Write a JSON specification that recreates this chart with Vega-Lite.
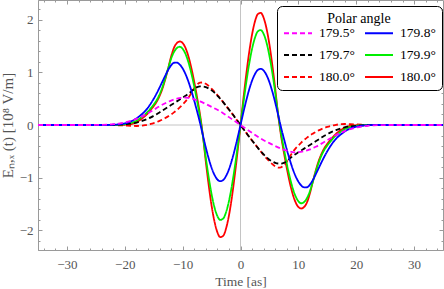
{
"$schema":"https://vega.github.io/schema/vega-lite/v6.json",
"width":405,"height":250,"autosize":"none",
"padding":{"left":38,"top":0,"right":1,"bottom":39},
"background":"white",
"config":{"view":{"stroke":"#9a9a9a","strokeWidth":1},"font":"Liberation Serif",
"axis":{"labelFont":"Liberation Serif","titleFont":"Liberation Serif","labelColor":"#555555","titleColor":"#555555","labelFontSize":13,"titleFontSize":13.5,"titleFontWeight":"normal","domainColor":"#9a9a9a","tickColor":"#9a9a9a","grid":false}},
"layer":[
{"data":{"values":[{"t":0}]},"mark":{"type":"rule","color":"#c4c4c4","strokeWidth":1},
"encoding":{"x":{"field":"t","type":"quantitative","scale":{"domain":[-35,35],"nice":false,"zero":false},
"axis":{"orient":"top","labels":false,"title":null,"domain":false,"values":[-34,-32,-30,-28,-26,-24,-22,-20,-18,-16,-14,-12,-10,-8,-6,-4,-2,0,2,4,6,8,10,12,14,16,18,20,22,24,26,28,30,32,34],"tickSize":{"condition":{"test":"datum.value % 10 === 0","value":-4},"value":-2}}}}},
{"data":{"values":[{"v":0}]},"mark":{"type":"rule","color":"#c4c4c4","strokeWidth":1},
"encoding":{"y":{"field":"v","type":"quantitative","scale":{"domain":[-2.38,2.38],"nice":false,"zero":false},
"axis":{"orient":"right","labels":false,"title":null,"domain":false,"values":[-2.2,-2,-1.8,-1.6,-1.4,-1.2,-1,-0.8,-0.6,-0.4,-0.2,0,0.2,0.4,0.6,0.8,1,1.2,1.4,1.6,1.8,2,2.2],"tickSize":{"condition":{"test":"datum.value % 1 === 0","value":-4},"value":-2}}}}},
{"data":{"values":[{"v":0}]},"mark":{"type":"point","opacity":0},
"encoding":{"y":{"field":"v","type":"quantitative","scale":{"domain":[-2.38,2.38],"nice":false,"zero":false},
"axis":{"orient":"left","labels":false,"title":null,"domain":false,"values":[-2.2,-1.8,-1.6,-1.4,-1.2,-0.8,-0.6,-0.4,-0.2,0.2,0.4,0.6,0.8,1.2,1.4,1.6,1.8,2.2],"tickSize":-2}}}},
{"data":{"values":[
{"s":"f","t":-35,"v":0},{"s":"f","t":-30,"v":0},{"s":"f","t":-21,"v":0},{"s":"f","t":-20,"v":0.005},{"s":"f","t":-19,"v":0.015},{"s":"f","t":-18.5,"v":0.03},{"s":"f","t":-18,"v":0.05},{"s":"f","t":-17.5,"v":0.085},{"s":"f","t":-17,"v":0.125},{"s":"f","t":-16.5,"v":0.17},{"s":"f","t":-16,"v":0.225},{"s":"f","t":-15.5,"v":0.29},{"s":"f","t":-15,"v":0.36},{"s":"f","t":-14.5,"v":0.44},{"s":"f","t":-14,"v":0.55},{"s":"f","t":-13.5,"v":0.69},{"s":"f","t":-13,"v":0.87},{"s":"f","t":-12.5,"v":1.08},{"s":"f","t":-12,"v":1.3},{"s":"f","t":-11.5,"v":1.47},{"s":"f","t":-11,"v":1.56},{"s":"f","t":-10.5,"v":1.59},{"s":"f","t":-10,"v":1.561},{"s":"f","t":-9.5,"v":1.466},{"s":"f","t":-9,"v":1.306},{"s":"f","t":-8.5,"v":1.088},{"s":"f","t":-8,"v":0.823},{"s":"f","t":-7.5,"v":0.523},{"s":"f","t":-7,"v":0.199},{"s":"f","t":-6.5,"v":-0.2},{"s":"f","t":-6,"v":-0.694},{"s":"f","t":-5.5,"v":-1.141},{"s":"f","t":-5,"v":-1.533},{"s":"f","t":-4.5,"v":-1.836},{"s":"f","t":-4,"v":-2.041},{"s":"f","t":-3.5,"v":-2.135},{"s":"f","t":-3,"v":-2.112},{"s":"f","t":-2.5,"v":-1.972},{"s":"f","t":-2,"v":-1.725},{"s":"f","t":-1.5,"v":-1.384},{"s":"f","t":-1,"v":-0.967},{"s":"f","t":-0.5,"v":-0.497},{"s":"f","t":0,"v":0},{"s":"f","t":0.5,"v":0.497},{"s":"f","t":1,"v":0.967},{"s":"f","t":1.5,"v":1.384},{"s":"f","t":2,"v":1.725},{"s":"f","t":2.5,"v":1.972},{"s":"f","t":3,"v":2.112},{"s":"f","t":3.5,"v":2.135},{"s":"f","t":4,"v":2.041},{"s":"f","t":4.5,"v":1.836},{"s":"f","t":5,"v":1.533},{"s":"f","t":5.5,"v":1.141},{"s":"f","t":6,"v":0.694},{"s":"f","t":6.5,"v":0.2},{"s":"f","t":7,"v":-0.199},{"s":"f","t":7.5,"v":-0.523},{"s":"f","t":8,"v":-0.823},{"s":"f","t":8.5,"v":-1.088},{"s":"f","t":9,"v":-1.306},{"s":"f","t":9.5,"v":-1.466},{"s":"f","t":10,"v":-1.561},{"s":"f","t":10.5,"v":-1.59},{"s":"f","t":11,"v":-1.56},{"s":"f","t":11.5,"v":-1.47},{"s":"f","t":12,"v":-1.3},{"s":"f","t":12.5,"v":-1.08},{"s":"f","t":13,"v":-0.87},{"s":"f","t":13.5,"v":-0.69},{"s":"f","t":14,"v":-0.55},{"s":"f","t":14.5,"v":-0.44},{"s":"f","t":15,"v":-0.36},{"s":"f","t":15.5,"v":-0.29},{"s":"f","t":16,"v":-0.225},{"s":"f","t":16.5,"v":-0.17},{"s":"f","t":17,"v":-0.125},{"s":"f","t":17.5,"v":-0.085},{"s":"f","t":18,"v":-0.05},{"s":"f","t":18.5,"v":-0.03},{"s":"f","t":19,"v":-0.015},{"s":"f","t":20,"v":-0.005},{"s":"f","t":21,"v":0},{"s":"f","t":30,"v":0},{"s":"f","t":35,"v":0},
{"s":"e","t":-35,"v":0},{"s":"e","t":-30,"v":0},{"s":"e","t":-24,"v":0},{"s":"e","t":-22,"v":-0.002},{"s":"e","t":-21,"v":-0.005},{"s":"e","t":-20,"v":-0.01},{"s":"e","t":-19,"v":-0.016},{"s":"e","t":-18,"v":-0.019},{"s":"e","t":-17.5,"v":-0.017},{"s":"e","t":-17,"v":-0.012},{"s":"e","t":-16.5,"v":-0.004},{"s":"e","t":-16,"v":0.008},{"s":"e","t":-15.5,"v":0.021},{"s":"e","t":-15,"v":0.037},{"s":"e","t":-14.5,"v":0.056},{"s":"e","t":-14,"v":0.078},{"s":"e","t":-13.5,"v":0.103},{"s":"e","t":-13,"v":0.132},{"s":"e","t":-12.5,"v":0.165},{"s":"e","t":-12,"v":0.2},{"s":"e","t":-11.5,"v":0.24},{"s":"e","t":-11,"v":0.285},{"s":"e","t":-10.5,"v":0.335},{"s":"e","t":-10,"v":0.39},{"s":"e","t":-9.5,"v":0.45},{"s":"e","t":-9,"v":0.52},{"s":"e","t":-8.5,"v":0.605},{"s":"e","t":-8,"v":0.7},{"s":"e","t":-7.5,"v":0.77},{"s":"e","t":-7,"v":0.805},{"s":"e","t":-6.5,"v":0.81},{"s":"e","t":-6,"v":0.785},{"s":"e","t":-5.5,"v":0.745},{"s":"e","t":-5,"v":0.69},{"s":"e","t":-4.5,"v":0.635},{"s":"e","t":-4,"v":0.57},{"s":"e","t":-3.5,"v":0.505},{"s":"e","t":-3,"v":0.435},{"s":"e","t":-2.5,"v":0.365},{"s":"e","t":-2,"v":0.295},{"s":"e","t":-1.5,"v":0.225},{"s":"e","t":-1,"v":0.15},{"s":"e","t":-0.5,"v":0.075},{"s":"e","t":0,"v":0},{"s":"e","t":0.5,"v":-0.075},{"s":"e","t":1,"v":-0.15},{"s":"e","t":1.5,"v":-0.225},{"s":"e","t":2,"v":-0.295},{"s":"e","t":2.5,"v":-0.365},{"s":"e","t":3,"v":-0.435},{"s":"e","t":3.5,"v":-0.505},{"s":"e","t":4,"v":-0.57},{"s":"e","t":4.5,"v":-0.635},{"s":"e","t":5,"v":-0.69},{"s":"e","t":5.5,"v":-0.745},{"s":"e","t":6,"v":-0.785},{"s":"e","t":6.5,"v":-0.81},{"s":"e","t":7,"v":-0.805},{"s":"e","t":7.5,"v":-0.77},{"s":"e","t":8,"v":-0.7},{"s":"e","t":8.5,"v":-0.605},{"s":"e","t":9,"v":-0.52},{"s":"e","t":9.5,"v":-0.45},{"s":"e","t":10,"v":-0.39},{"s":"e","t":10.5,"v":-0.335},{"s":"e","t":11,"v":-0.285},{"s":"e","t":11.5,"v":-0.24},{"s":"e","t":12,"v":-0.2},{"s":"e","t":12.5,"v":-0.165},{"s":"e","t":13,"v":-0.132},{"s":"e","t":13.5,"v":-0.103},{"s":"e","t":14,"v":-0.078},{"s":"e","t":14.5,"v":-0.056},{"s":"e","t":15,"v":-0.037},{"s":"e","t":15.5,"v":-0.021},{"s":"e","t":16,"v":-0.008},{"s":"e","t":16.5,"v":0.004},{"s":"e","t":17,"v":0.012},{"s":"e","t":17.5,"v":0.017},{"s":"e","t":18,"v":0.019},{"s":"e","t":19,"v":0.016},{"s":"e","t":20,"v":0.01},{"s":"e","t":21,"v":0.005},{"s":"e","t":22,"v":0.002},{"s":"e","t":24,"v":0},{"s":"e","t":30,"v":0},{"s":"e","t":35,"v":0},
{"s":"d","t":-35,"v":0},{"s":"d","t":-30,"v":0},{"s":"d","t":-22,"v":0},{"s":"d","t":-21,"v":0.005},{"s":"d","t":-20,"v":0.015},{"s":"d","t":-19,"v":0.035},{"s":"d","t":-18.5,"v":0.055},{"s":"d","t":-18,"v":0.08},{"s":"d","t":-17.5,"v":0.115},{"s":"d","t":-17,"v":0.155},{"s":"d","t":-16.5,"v":0.2},{"s":"d","t":-16,"v":0.255},{"s":"d","t":-15.5,"v":0.32},{"s":"d","t":-15,"v":0.39},{"s":"d","t":-14.5,"v":0.47},{"s":"d","t":-14,"v":0.58},{"s":"d","t":-13.5,"v":0.72},{"s":"d","t":-13,"v":0.89},{"s":"d","t":-12.5,"v":1.08},{"s":"d","t":-12,"v":1.26},{"s":"d","t":-11.5,"v":1.39},{"s":"d","t":-11,"v":1.465},{"s":"d","t":-10.5,"v":1.49},{"s":"d","t":-10,"v":1.451},{"s":"d","t":-9.5,"v":1.352},{"s":"d","t":-9,"v":1.195},{"s":"d","t":-8.5,"v":0.986},{"s":"d","t":-8,"v":0.736},{"s":"d","t":-7.5,"v":0.455},{"s":"d","t":-7,"v":0.154},{"s":"d","t":-6.5,"v":-0.21},{"s":"d","t":-6,"v":-0.619},{"s":"d","t":-5.5,"v":-0.994},{"s":"d","t":-5,"v":-1.316},{"s":"d","t":-4.5,"v":-1.567},{"s":"d","t":-4,"v":-1.734},{"s":"d","t":-3.5,"v":-1.807},{"s":"d","t":-3,"v":-1.783},{"s":"d","t":-2.5,"v":-1.661},{"s":"d","t":-2,"v":-1.451},{"s":"d","t":-1.5,"v":-1.163},{"s":"d","t":-1,"v":-0.812},{"s":"d","t":-0.5,"v":-0.417},{"s":"d","t":0,"v":0},{"s":"d","t":0.5,"v":0.417},{"s":"d","t":1,"v":0.812},{"s":"d","t":1.5,"v":1.163},{"s":"d","t":2,"v":1.451},{"s":"d","t":2.5,"v":1.661},{"s":"d","t":3,"v":1.783},{"s":"d","t":3.5,"v":1.807},{"s":"d","t":4,"v":1.734},{"s":"d","t":4.5,"v":1.567},{"s":"d","t":5,"v":1.316},{"s":"d","t":5.5,"v":0.994},{"s":"d","t":6,"v":0.619},{"s":"d","t":6.5,"v":0.21},{"s":"d","t":7,"v":-0.154},{"s":"d","t":7.5,"v":-0.455},{"s":"d","t":8,"v":-0.736},{"s":"d","t":8.5,"v":-0.986},{"s":"d","t":9,"v":-1.195},{"s":"d","t":9.5,"v":-1.352},{"s":"d","t":10,"v":-1.451},{"s":"d","t":10.5,"v":-1.49},{"s":"d","t":11,"v":-1.465},{"s":"d","t":11.5,"v":-1.39},{"s":"d","t":12,"v":-1.26},{"s":"d","t":12.5,"v":-1.08},{"s":"d","t":13,"v":-0.89},{"s":"d","t":13.5,"v":-0.72},{"s":"d","t":14,"v":-0.58},{"s":"d","t":14.5,"v":-0.47},{"s":"d","t":15,"v":-0.39},{"s":"d","t":15.5,"v":-0.32},{"s":"d","t":16,"v":-0.255},{"s":"d","t":16.5,"v":-0.2},{"s":"d","t":17,"v":-0.155},{"s":"d","t":17.5,"v":-0.115},{"s":"d","t":18,"v":-0.08},{"s":"d","t":18.5,"v":-0.055},{"s":"d","t":19,"v":-0.035},{"s":"d","t":20,"v":-0.015},{"s":"d","t":21,"v":-0.005},{"s":"d","t":22,"v":0},{"s":"d","t":30,"v":0},{"s":"d","t":35,"v":0},
{"s":"c","t":-35,"v":0},{"s":"c","t":-30,"v":0},{"s":"c","t":-24,"v":0},{"s":"c","t":-22,"v":0.004},{"s":"c","t":-21,"v":0.008},{"s":"c","t":-20,"v":0.015},{"s":"c","t":-19,"v":0.027},{"s":"c","t":-18,"v":0.045},{"s":"c","t":-17.5,"v":0.06},{"s":"c","t":-17,"v":0.077},{"s":"c","t":-16.5,"v":0.097},{"s":"c","t":-16,"v":0.12},{"s":"c","t":-15.5,"v":0.145},{"s":"c","t":-15,"v":0.175},{"s":"c","t":-14.5,"v":0.205},{"s":"c","t":-14,"v":0.24},{"s":"c","t":-13.5,"v":0.275},{"s":"c","t":-13,"v":0.31},{"s":"c","t":-12.5,"v":0.345},{"s":"c","t":-12,"v":0.38},{"s":"c","t":-11.5,"v":0.415},{"s":"c","t":-11,"v":0.45},{"s":"c","t":-10.5,"v":0.485},{"s":"c","t":-10,"v":0.52},{"s":"c","t":-9.5,"v":0.555},{"s":"c","t":-9,"v":0.595},{"s":"c","t":-8.5,"v":0.64},{"s":"c","t":-8,"v":0.685},{"s":"c","t":-7.5,"v":0.72},{"s":"c","t":-7,"v":0.735},{"s":"c","t":-6.5,"v":0.733},{"s":"c","t":-6,"v":0.72},{"s":"c","t":-5.5,"v":0.695},{"s":"c","t":-5,"v":0.66},{"s":"c","t":-4.5,"v":0.615},{"s":"c","t":-4,"v":0.56},{"s":"c","t":-3.5,"v":0.5},{"s":"c","t":-3,"v":0.435},{"s":"c","t":-2.5,"v":0.365},{"s":"c","t":-2,"v":0.295},{"s":"c","t":-1.5,"v":0.225},{"s":"c","t":-1,"v":0.15},{"s":"c","t":-0.5,"v":0.075},{"s":"c","t":0,"v":0},{"s":"c","t":0.5,"v":-0.075},{"s":"c","t":1,"v":-0.15},{"s":"c","t":1.5,"v":-0.225},{"s":"c","t":2,"v":-0.295},{"s":"c","t":2.5,"v":-0.365},{"s":"c","t":3,"v":-0.435},{"s":"c","t":3.5,"v":-0.5},{"s":"c","t":4,"v":-0.56},{"s":"c","t":4.5,"v":-0.615},{"s":"c","t":5,"v":-0.66},{"s":"c","t":5.5,"v":-0.695},{"s":"c","t":6,"v":-0.72},{"s":"c","t":6.5,"v":-0.733},{"s":"c","t":7,"v":-0.735},{"s":"c","t":7.5,"v":-0.72},{"s":"c","t":8,"v":-0.685},{"s":"c","t":8.5,"v":-0.64},{"s":"c","t":9,"v":-0.595},{"s":"c","t":9.5,"v":-0.555},{"s":"c","t":10,"v":-0.52},{"s":"c","t":10.5,"v":-0.485},{"s":"c","t":11,"v":-0.45},{"s":"c","t":11.5,"v":-0.415},{"s":"c","t":12,"v":-0.38},{"s":"c","t":12.5,"v":-0.345},{"s":"c","t":13,"v":-0.31},{"s":"c","t":13.5,"v":-0.275},{"s":"c","t":14,"v":-0.24},{"s":"c","t":14.5,"v":-0.205},{"s":"c","t":15,"v":-0.175},{"s":"c","t":15.5,"v":-0.145},{"s":"c","t":16,"v":-0.12},{"s":"c","t":16.5,"v":-0.097},{"s":"c","t":17,"v":-0.077},{"s":"c","t":17.5,"v":-0.06},{"s":"c","t":18,"v":-0.045},{"s":"c","t":19,"v":-0.027},{"s":"c","t":20,"v":-0.015},{"s":"c","t":21,"v":-0.008},{"s":"c","t":22,"v":-0.004},{"s":"c","t":24,"v":0},{"s":"c","t":30,"v":0},{"s":"c","t":35,"v":0},
{"s":"b","t":-35,"v":0},{"s":"b","t":-30,"v":0},{"s":"b","t":-23,"v":0},{"s":"b","t":-22,"v":0.005},{"s":"b","t":-21,"v":0.013},{"s":"b","t":-20,"v":0.031},{"s":"b","t":-19.5,"v":0.046},{"s":"b","t":-19,"v":0.066},{"s":"b","t":-18.5,"v":0.092},{"s":"b","t":-18,"v":0.125},{"s":"b","t":-17.5,"v":0.165},{"s":"b","t":-17,"v":0.21},{"s":"b","t":-16.5,"v":0.265},{"s":"b","t":-16,"v":0.33},{"s":"b","t":-15.5,"v":0.41},{"s":"b","t":-15,"v":0.5},{"s":"b","t":-14.5,"v":0.6},{"s":"b","t":-14,"v":0.71},{"s":"b","t":-13.5,"v":0.825},{"s":"b","t":-13,"v":0.94},{"s":"b","t":-12.5,"v":1.05},{"s":"b","t":-12,"v":1.135},{"s":"b","t":-11.5,"v":1.185},{"s":"b","t":-11,"v":1.187},{"s":"b","t":-10.5,"v":1.151},{"s":"b","t":-10,"v":1.077},{"s":"b","t":-9.5,"v":0.968},{"s":"b","t":-9,"v":0.826},{"s":"b","t":-8.5,"v":0.657},{"s":"b","t":-8,"v":0.465},{"s":"b","t":-7.5,"v":0.259},{"s":"b","t":-7,"v":0.043},{"s":"b","t":-6.5,"v":-0.194},{"s":"b","t":-6,"v":-0.428},{"s":"b","t":-5.5,"v":-0.638},{"s":"b","t":-5,"v":-0.815},{"s":"b","t":-4.5,"v":-0.95},{"s":"b","t":-4,"v":-1.037},{"s":"b","t":-3.5,"v":-1.07},{"s":"b","t":-3,"v":-1.048},{"s":"b","t":-2.5,"v":-0.971},{"s":"b","t":-2,"v":-0.845},{"s":"b","t":-1.5,"v":-0.675},{"s":"b","t":-1,"v":-0.47},{"s":"b","t":-0.5,"v":-0.241},{"s":"b","t":0,"v":0},{"s":"b","t":0.5,"v":0.241},{"s":"b","t":1,"v":0.47},{"s":"b","t":1.5,"v":0.675},{"s":"b","t":2,"v":0.845},{"s":"b","t":2.5,"v":0.971},{"s":"b","t":3,"v":1.048},{"s":"b","t":3.5,"v":1.07},{"s":"b","t":4,"v":1.037},{"s":"b","t":4.5,"v":0.95},{"s":"b","t":5,"v":0.815},{"s":"b","t":5.5,"v":0.638},{"s":"b","t":6,"v":0.428},{"s":"b","t":6.5,"v":0.194},{"s":"b","t":7,"v":-0.043},{"s":"b","t":7.5,"v":-0.259},{"s":"b","t":8,"v":-0.465},{"s":"b","t":8.5,"v":-0.657},{"s":"b","t":9,"v":-0.826},{"s":"b","t":9.5,"v":-0.968},{"s":"b","t":10,"v":-1.077},{"s":"b","t":10.5,"v":-1.151},{"s":"b","t":11,"v":-1.187},{"s":"b","t":11.5,"v":-1.185},{"s":"b","t":12,"v":-1.135},{"s":"b","t":12.5,"v":-1.05},{"s":"b","t":13,"v":-0.94},{"s":"b","t":13.5,"v":-0.825},{"s":"b","t":14,"v":-0.71},{"s":"b","t":14.5,"v":-0.6},{"s":"b","t":15,"v":-0.5},{"s":"b","t":15.5,"v":-0.41},{"s":"b","t":16,"v":-0.33},{"s":"b","t":16.5,"v":-0.265},{"s":"b","t":17,"v":-0.21},{"s":"b","t":17.5,"v":-0.165},{"s":"b","t":18,"v":-0.125},{"s":"b","t":18.5,"v":-0.092},{"s":"b","t":19,"v":-0.066},{"s":"b","t":19.5,"v":-0.046},{"s":"b","t":20,"v":-0.031},{"s":"b","t":21,"v":-0.013},{"s":"b","t":22,"v":-0.005},{"s":"b","t":23,"v":0},{"s":"b","t":30,"v":0},{"s":"b","t":35,"v":0},
{"s":"a","t":-35,"v":0},{"s":"a","t":-30,"v":0},{"s":"a","t":-26,"v":0},{"s":"a","t":-24,"v":0.003},{"s":"a","t":-23,"v":0.007},{"s":"a","t":-22,"v":0.015},{"s":"a","t":-21,"v":0.028},{"s":"a","t":-20,"v":0.048},{"s":"a","t":-19,"v":0.077},{"s":"a","t":-18,"v":0.115},{"s":"a","t":-17,"v":0.165},{"s":"a","t":-16,"v":0.225},{"s":"a","t":-15,"v":0.29},{"s":"a","t":-14,"v":0.355},{"s":"a","t":-13,"v":0.415},{"s":"a","t":-12,"v":0.465},{"s":"a","t":-11,"v":0.5},{"s":"a","t":-10,"v":0.518},{"s":"a","t":-9.5,"v":0.52},{"s":"a","t":-9,"v":0.515},{"s":"a","t":-8,"v":0.49},{"s":"a","t":-7,"v":0.45},{"s":"a","t":-6,"v":0.4},{"s":"a","t":-5,"v":0.345},{"s":"a","t":-4,"v":0.29},{"s":"a","t":-3,"v":0.225},{"s":"a","t":-2,"v":0.15},{"s":"a","t":-1,"v":0.075},{"s":"a","t":0,"v":0},{"s":"a","t":1,"v":-0.075},{"s":"a","t":2,"v":-0.15},{"s":"a","t":3,"v":-0.225},{"s":"a","t":4,"v":-0.29},{"s":"a","t":5,"v":-0.345},{"s":"a","t":6,"v":-0.4},{"s":"a","t":7,"v":-0.45},{"s":"a","t":8,"v":-0.49},{"s":"a","t":9,"v":-0.515},{"s":"a","t":9.5,"v":-0.52},{"s":"a","t":10,"v":-0.518},{"s":"a","t":11,"v":-0.5},{"s":"a","t":12,"v":-0.465},{"s":"a","t":13,"v":-0.415},{"s":"a","t":14,"v":-0.355},{"s":"a","t":15,"v":-0.29},{"s":"a","t":16,"v":-0.225},{"s":"a","t":17,"v":-0.165},{"s":"a","t":18,"v":-0.115},{"s":"a","t":19,"v":-0.077},{"s":"a","t":20,"v":-0.048},{"s":"a","t":21,"v":-0.028},{"s":"a","t":22,"v":-0.015},{"s":"a","t":23,"v":-0.007},{"s":"a","t":24,"v":-0.003},{"s":"a","t":26,"v":0},{"s":"a","t":30,"v":0},{"s":"a","t":35,"v":0}
]},
"mark":{"type":"line","interpolate":"monotone","strokeWidth":1.8,"clip":true},
"encoding":{
"x":{"field":"t","type":"quantitative","scale":{"domain":[-35,35],"nice":false,"zero":false},
"axis":{"orient":"bottom","title":"Time  [as]","format":"d","labelOverlap":false,"values":[-34,-32,-30,-28,-26,-24,-22,-20,-18,-16,-14,-12,-10,-8,-6,-4,-2,0,2,4,6,8,10,12,14,16,18,20,22,24,26,28,30,32,34],"labelExpr":"datum.value % 10 === 0 ? datum.label : ''","tickSize":{"condition":{"test":"datum.value % 10 === 0","value":-4},"value":-2},"labelPadding":12,"titlePadding":1}},
"y":{"field":"v","type":"quantitative","scale":{"domain":[-2.38,2.38],"nice":false,"zero":false},
"axis":{"orient":"left","title":"Eₙ,ₓ (t)  [10⁸ V/m]","titleFontSize":15,"format":"d","labelOverlap":false,"values":[-2,-1,0,1,2],"tickSize":-4,"labelPadding":9,"titlePadding":4}},
"color":{"field":"s","type":"nominal","scale":{"domain":["a","b","c","d","e","f"],"range":["#ff00ff","#0000ff","#000000","#00ee00","#ff0000","#ff0000"]},
"legend":{"orient":"none","legendX":239,"legendY":6,"title":"Polar angle","columns":2,"direction":"horizontal","symbolType":"stroke","symbolSize":784,"symbolStrokeWidth":2,"labelExpr":"datum.value=='a'?'179.5°':datum.value=='b'?'179.8°':datum.value=='c'?'179.7°':datum.value=='d'?'179.9°':'180.0°'","labelFont":"Liberation Serif","labelFontSize":13.5,"labelColor":"#000000","titleFont":"Liberation Serif","titleFontSize":14,"titleFontWeight":"normal","titleColor":"#000000","titleAnchor":"middle","titlePadding":-8,"fillColor":"white","strokeColor":"#000000","cornerRadius":5,"padding":6,"rowPadding":-11,"columnPadding":6,"labelOffset":6}},
"strokeDash":{"field":"s","type":"nominal","scale":{"domain":["a","b","c","d","e","f"],"range":[[5,3],[1,0],[5,3],[1,0],[5,3],[1,0]]}}
}}
],
"resolve":{"axis":{"x":"independent","y":"independent"}}
}
